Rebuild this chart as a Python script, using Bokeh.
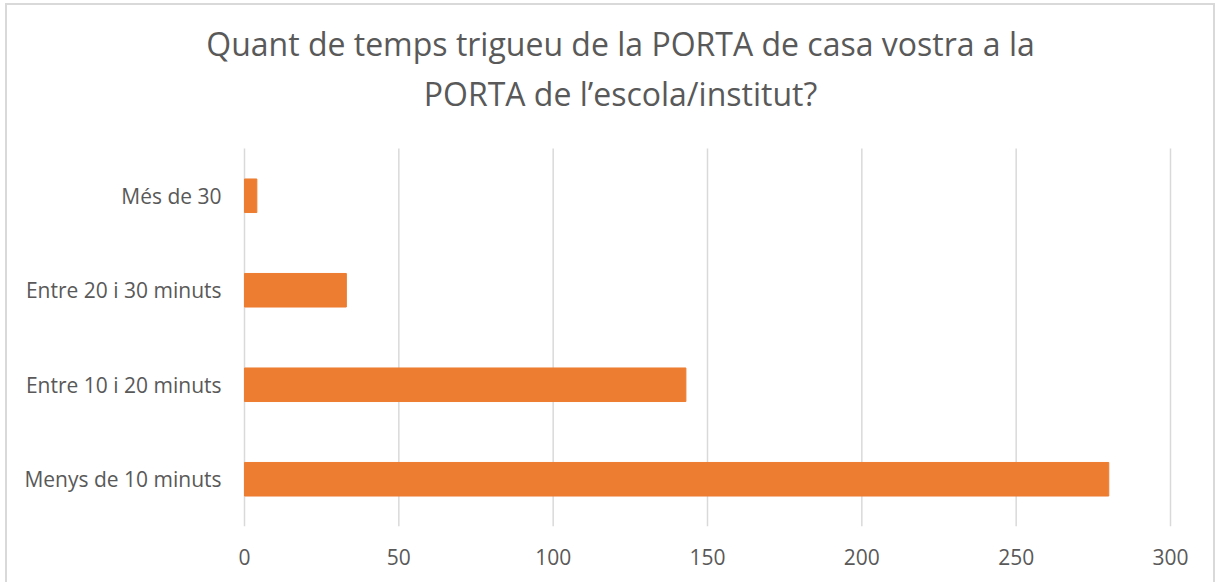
from bokeh.plotting import figure
from bokeh.models import FixedTicker, Range1d
from bokeh.core.properties import value
from bokeh.embed import file_html
from bokeh.resources import INLINE

categories = ["Menys de 10 minuts", "Entre 10 i 20 minuts", "Entre 20 i 30 minuts", "Més de 30"]
values = [280, 143, 33, 4]
x_ticks = [0, 50, 100, 150, 200, 250, 300]
title_lines = ["Quant de temps trigueu de la PORTA de casa vostra a la",
               "PORTA de l\u2019escola/institut?"]

FONT = "Open Sans"
TXT = "#595959"

cat_pos = list(range(len(categories)))
top_band = len(categories) - 0.5          # upper edge of the category bands
px_per_cat = 94.5
frame_px = 521
y_top = -0.5 + frame_px / px_per_cat      # room above the bands for the title

W = 1210
px_per_val = 926 / 300
x_start = -237 / px_per_val               # room on the left for category labels
x_end = x_start + W / px_per_val

p = figure(width=W, height=579, x_range=Range1d(x_start, x_end), y_range=Range1d(-0.5, y_top),
           output_backend="svg", toolbar_location=None, title_location=None,
           min_border_left=0, min_border_right=0, min_border_top=0, min_border_bottom=58)
p.styles = {"margin-left": "5px", "margin-top": "3px",
            "border-left": "2px solid #d9d9d9", "border-top": "2px solid #d9d9d9",
            "border-right": "2px solid #d9d9d9"}

# vertical gridlines limited to the category band area
p.segment(x0=x_ticks, y0=[-0.5] * len(x_ticks), x1=x_ticks, y1=[top_band] * len(x_ticks),
          line_color="#d9d9d9", line_width=1.5)

p.hbar(y=cat_pos, right=values, left=0, height=0.355, color="#ED7D31")

# category labels
p.text(x=[-23 / px_per_val] * len(categories), y=cat_pos, text=categories,
       text_align="right", text_baseline="middle", text_font=value(FONT),
       text_font_size="21px", text_color=TXT)

# two centred title lines
title_x = 376 / px_per_val
title_y = [top_band + 105 / px_per_cat, top_band + 55 / px_per_cat]
p.text(x=[title_x, title_x], y=title_y, text=title_lines, text_align="center",
       text_baseline="alphabetic", text_font=value(FONT), text_font_size="32px",
       text_color=TXT)

p.outline_line_color = None
p.xgrid.grid_line_color = None
p.ygrid.grid_line_color = None
p.yaxis.visible = False
p.xaxis.ticker = FixedTicker(ticks=x_ticks)
p.xaxis.axis_line_color = None
p.xaxis.major_tick_line_color = None
p.xaxis.minor_tick_line_color = None
p.xaxis.major_tick_out = 0
p.xaxis.major_tick_in = 0
p.xaxis.major_label_text_font = FONT
p.xaxis.major_label_text_font_size = "21px"
p.xaxis.major_label_text_color = TXT
p.xaxis.major_label_standoff = 22

open("out.html", "w").write(file_html(p, INLINE))
